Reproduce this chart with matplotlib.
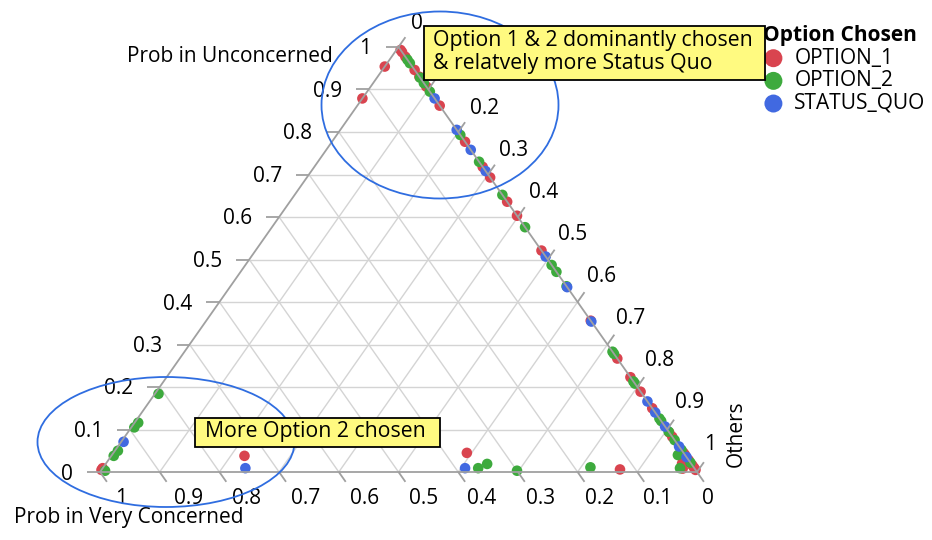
import numpy as np
import matplotlib.pyplot as plt
from matplotlib.patches import Ellipse, Rectangle

plt.rcParams['font.family'] = ['Open Sans', 'DejaVu Sans']

options = ['OPTION_1', 'OPTION_2', 'STATUS_QUO']
option_colors = ['#D9444F', '#3DAA3D', '#4169E1']

# probabilities; "others" = 1 - unconcerned - very concerned
opt1_unconcerned = [0.993, 0.988, 0.977, 0.946, 0.930, 0.907, 0.862, 0.777, 0.718,
                    0.693, 0.636, 0.603, 0.521, 0.356, 0.267, 0.223, 0.189, 0.150,
                    0.093, 0.083, 0.045, 0.040, 0.028, 0.016, 0.010, 0.005,
                    0.954, 0.879, 0.009, 0.005, 0.045, 0.006, 0.038, 0.020, 0.008]
opt1_very_concerned = [0.0] * 26 + [0.046, 0.121, 0.991, 0.995, 0.363, 0.126,
                                    0.739, 0.015, 0.020]

opt2_unconcerned = [0.970, 0.962, 0.928, 0.915, 0.895, 0.793, 0.730, 0.652, 0.576,
                    0.487, 0.471, 0.437, 0.283, 0.278, 0.213, 0.208, 0.126, 0.120,
                    0.095, 0.075, 0.052, 0.022,
                    0.184, 0.116, 0.105, 0.050, 0.038, 0.003,
                    0.009, 0.019, 0.003, 0.011, 0.009, 0.040]
opt2_very_concerned = [0.0] * 22 + [0.810, 0.878, 0.890, 0.945, 0.958, 0.990,
                                    0.362, 0.342, 0.300, 0.173, 0.024, 0.012]

sq_unconcerned = [0.879, 0.805, 0.758, 0.708, 0.507, 0.435, 0.354, 0.166, 0.140,
                  0.107, 0.060, 0.035, 0.071, 0.009, 0.009]
sq_very_concerned = [0.0] * 12 + [0.925, 0.384, 0.752]

tick_values = np.round(np.arange(0, 1.01, 0.1), 1)
tick_labels = ['0' if v == 0 else '1' if v == 1 else f'{v:g}' for v in tick_values]

W, H = 932, 540
# triangle corners in pixels: left (100, 472), right (697, 472), top (397, 47)
PX = 1 / 597
PY = 1 / 425
FS = 15


def tern(u, vc):
    """ternary (unconcerned, very concerned) -> plot coordinates"""
    u = np.asarray(u, dtype=float)
    vc = np.asarray(vc, dtype=float)
    o = 1 - u - vc
    return o + 0.5 * u, u


fig = plt.figure(figsize=(W / 100, H / 100), dpi=100)
ax = fig.add_axes([0, 0, 1, 1])
ax.set_xlim(-100 * PX, (W - 100) * PX)
ax.set_ylim(-(H - 472) * PY, 472 * PY)
ax.axis('off')

grid_kw = dict(color='#d4d4d4', lw=1.0, zorder=1)
edge_kw = dict(color='#a0a0a0', lw=1.3, zorder=3, solid_capstyle='butt')
for v in tick_values[1:-1]:
    # constant unconcerned (horizontal)
    x, y = tern([v, v], [1 - v, 0])
    ax.plot(x, y, **grid_kw)
    # constant very concerned
    x, y = tern([0, 1 - v], [v, v])
    ax.plot(x, y, **grid_kw)
    # constant others
    x, y = tern([0, 1 - v], [1 - v, 0])
    ax.plot(x, y, **grid_kw)

# triangle edges
x, y = tern([0, 1, 0, 0], [1, 0, 0, 1])
ax.plot(x, y, **edge_kw)

# ticks and tick labels
tick_len = 12
d = np.array([298.5, 425.0])
d = d / np.linalg.norm(d) * tick_len
for v, lab in zip(tick_values, tick_labels):
    # left axis: unconcerned
    x, y = tern(v, 1 - v)
    ax.plot([x, x - 13 * PX], [y, y], **edge_kw)
    ax.text(x - 27 * PX, y - 2 * PY, lab, ha='right', va='center', fontsize=FS)
    # bottom axis: very concerned
    x, y = tern(0, v)
    ax.plot([x, x + d[0] * PX], [y, y - d[1] * PY], **edge_kw)
    ax.text(x + (5 + 10 * v) * PX, y - 27 * PY, lab, ha='left', va='center', fontsize=FS)
    # right axis: others
    x, y = tern(1 - v, 0)
    ax.plot([x, x + d[0] * PX], [y, y + d[1] * PY], **edge_kw)
    ax.text(x + (13 - 6 * v) * PX, y + (23 + 4 * v) * PY, lab, ha='left', va='center',
            fontsize=FS)

# axis titles
ax.text(233 * PX, (472 - 57) * PY, 'Prob in Unconcerned', ha='right', va='center',
        fontsize=FS)
ax.text(-86 * PX, (472 - 518) * PY, 'Prob in Very Concerned', ha='left', va='center',
        fontsize=FS)
ax.text(636 * PX, (472 - 434) * PY, 'Others', ha='center', va='center', rotation=90,
        fontsize=FS)

# data points
series = [(opt1_unconcerned, opt1_very_concerned),
          (opt2_unconcerned, opt2_very_concerned),
          (sq_unconcerned, sq_very_concerned)]
handles = []
for (u, vc), name, col in zip(series, options, option_colors):
    x, y = tern(u, vc)
    h = ax.scatter(x, y, s=58, color=col, edgecolors='none', zorder=2, label=name)
    handles.append(h)

# highlight ellipses
ax.add_patch(Ellipse((340 * PX, (472 - 105) * PY), 237 * PX, 187 * PY, fill=False,
                     ec='#2f6de0', lw=1.3, zorder=4))
ax.add_patch(Ellipse((66 * PX, (472 - 442) * PY), 257 * PX, 130 * PY, fill=False,
                     ec='#2f6de0', lw=1.3, zorder=4))

# annotation boxes
box_kw = dict(fc='#FFFA80', ec='black', lw=1.3, zorder=5)
ax.add_patch(Rectangle((324 * PX, (472 - 80) * PY), 341 * PX, 54 * PY, **box_kw))
ax.text(333 * PX, (472 - 52) * PY, 'Option 1 & 2 dominantly chosen\n& relatvely more Status Quo',
        ha='left', va='center', fontsize=15.3, linespacing=1.15, zorder=6)
ax.add_patch(Rectangle((95 * PX, (472 - 447) * PY), 245 * PX, 29 * PY, **box_kw))
ax.text(105 * PX, (472 - 432) * PY, 'More Option 2 chosen', ha='left', va='center',
        fontsize=15.3, zorder=6)

leg = ax.legend(handles=handles, title='Option Chosen', loc='upper left',
                bbox_to_anchor=(763 / W, 1 - 25 / H), bbox_transform=fig.transFigure,
                frameon=False, markerscale=1.7, fontsize=FS, title_fontsize=FS,
                alignment='left', borderpad=0, borderaxespad=0, handletextpad=0.5,
                handlelength=1.0, labelspacing=0.08)
leg.get_title().set_fontweight('bold')
leg.set_zorder(4)

fig.savefig('out.png', dpi=100)
